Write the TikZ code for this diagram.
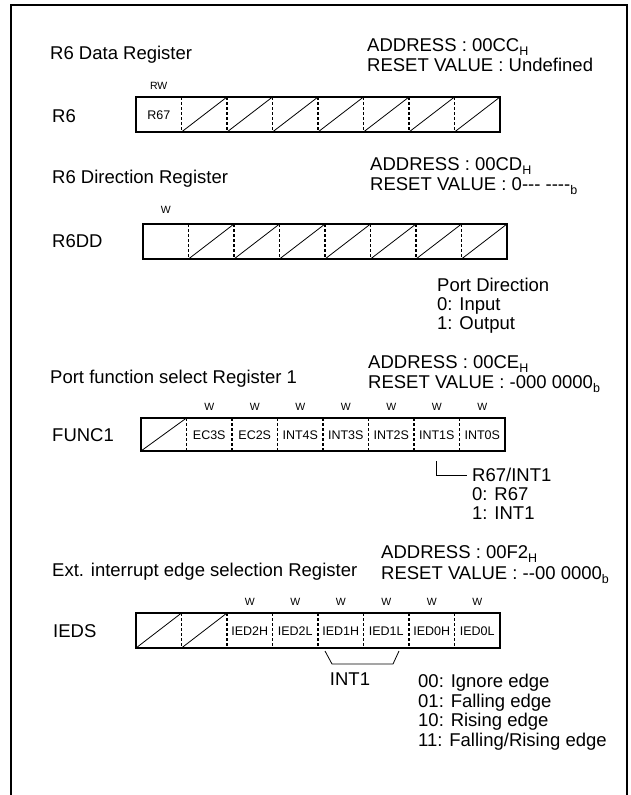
\documentclass[tikz,border=0pt]{standalone}
\usepackage{fontspec}
\setmainfont{Liberation Sans}[Ligatures=TeXOff]
\newcommand{\regsub}[1]{\raisebox{-0.35ex}{\fontsize{12.5}{12.5}\selectfont #1}}
\newcommand{\regframe}[3]{%
  \foreach \i in {1,...,7} \draw[sepline] ({#1+\i*45.5},#2) -- ({#1+\i*45.5},#3);
  \draw[regbox] (#1,#2) rectangle ({#1+364},#3);}
\newcommand{\regslash}[4]{%
  \foreach \i in {#4} \draw[slashline] ({#1+(\i-1)*45.5},#3) -- ({#1+\i*45.5},#2);}
\begin{document}
\begin{tikzpicture}[x=1pt,y=-1pt,
  big/.style={font=\fontsize{18.5}{20}\selectfont, inner sep=0pt, anchor=west, text height=13.2pt, text depth=0pt},
  cell/.style={font=\fontsize{12.5}{12.5}\selectfont, inner sep=0pt, text height=9pt, text depth=0pt},
  acc/.style={font=\fontsize{10.5}{10.5}\selectfont, inner sep=0pt, text height=7.5pt, text depth=0pt},
  regbox/.style={line width=2.6pt},
  sepline/.style={line width=1.3pt, dash pattern=on 3pt off 2pt},
  slashline/.style={line width=0.8pt},
  thinline/.style={line width=0.8pt},
  frameline/.style={line width=2pt}]
\useasboundingbox (0,0) rectangle (631,795);
% frame
\draw[frameline] (11,796) -- (11,5) -- (627,5) -- (627,796);

% ---------- R6 ----------
\node[big] (t1) at (50,53) {R6 Data Register};
\node[big] (a1) at (367,45) {ADDRESS : 00CC\regsub{H}};
\node[big] (v1) at (367,65) {RESET VALUE : Undefined};
\node[acc] (rw) at (158.75,86) {RW};
\node[big] (n1) at (52,116) {R6};
\regframe{136}{97}{132}
\regslash{136}{97}{132}{2,...,8}
\node[cell] (r6c1) at (158.75,114.5) {R67};

% ---------- R6DD ----------
\node[big] (t2) at (52,177) {R6 Direction Register};
\node[big] (a2) at (370,164) {ADDRESS : 00CD\regsub{H}};
\node[big] (v2) at (370,184) {RESET VALUE : 0--- ----\regsub{b}};
\node[acc] (w2) at (165.75,210) {W};
\node[big] (n2) at (52,241) {R6DD};
\regframe{143}{224}{259}
\regslash{143}{224}{259}{2,...,8}
\node[big] (pd) at (437,285) {Port Direction};
\node[big] (pd0) at (437,304) {0: Input};
\node[big] (pd1) at (437,323) {1: Output};

% ---------- FUNC1 ----------
\node[big] (t3) at (50,377) {Port function select Register 1};
\node[big] (a3) at (368,362) {ADDRESS : 00CE\regsub{H}};
\node[big] (v3) at (368,382) {RESET VALUE : -000 0000\regsub{b}};
\foreach \i in {2,...,8} \node[acc] (fw\i) at ({141+(\i-0.5)*45.5},407) {W};
\node[big] (n3) at (52,435) {FUNC1};
\regframe{141}{418}{451}
\regslash{141}{418}{451}{1}
\foreach \i/\t in {2/EC3S,3/EC2S,4/INT4S,5/INT3S,6/INT2S,7/INT1S,8/INT0S}
  \node[cell] (fc\i) at ({141+(\i-0.5)*45.5},434.5) {\t};
\node[big] (r67) at (472,475) {R67/INT1};
\node[big] (r670) at (472,494) {0: R67};
\node[big] (r671) at (472,513) {1: INT1};
\coordinate (lstart) at (436,461);
\draw[thinline] (lstart) |- ([xshift=-5pt]r67.west);

% ---------- IEDS ----------
\node[big] (t4) at (52,570) {Ext. interrupt edge selection Register};
\node[big] (a4) at (381,552) {ADDRESS : 00F2\regsub{H}};
\node[big] (v4) at (381,573) {RESET VALUE : --00 0000\regsub{b}};
\foreach \i in {3,...,8} \node[acc] (iw\i) at ({136+(\i-0.5)*45.5},602) {W};
\node[big] (n4) at (53,631) {IEDS};
\regframe{136}{613}{648}
\regslash{136}{613}{648}{1,2}
\foreach \i/\t in {3/IED2H,4/IED2L,5/IED1H,6/IED1L,7/IED0H,8/IED0L}
  \node[cell] (ic\i) at ({136+(\i-0.5)*45.5},630.5) {\t};
\coordinate (b1) at (325,651);
\coordinate (b2) at (332,664);
\coordinate (b3) at (393,664);
\coordinate (b4) at (399,651);
\draw[thinline] (b1) -- (b2) -- (b3) -- (b4);
\node[big, anchor=center] (int1) at (350,679) {INT1};
\node[big] (e0) at (418,681) {00: Ignore edge};
\node[big] (e1) at (418,701) {01: Falling edge};
\node[big] (e2) at (418,720) {10: Rising edge};
\node[big] (e3) at (418,740) {11: Falling/Rising edge};
\end{tikzpicture}
\end{document}
